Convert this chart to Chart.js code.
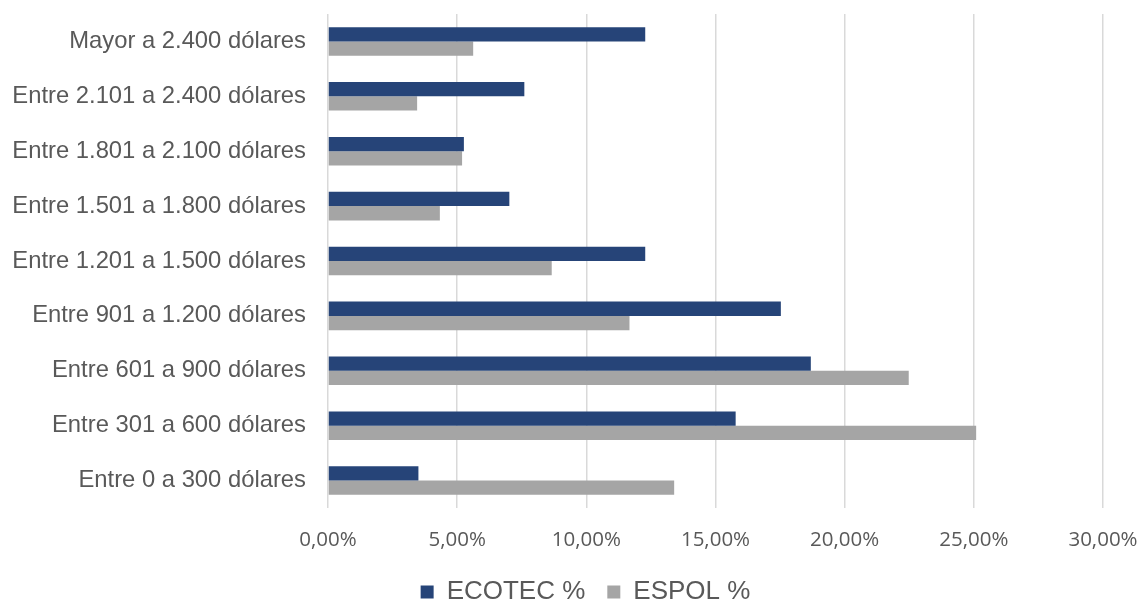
<!DOCTYPE html>
<html>
<head>
<meta charset="utf-8">
<script src="https://cdn.jsdelivr.net/npm/chart.js@4.4.1/dist/chart.umd.min.js"></script>
<style>
html,body{margin:0;padding:0;background:#fff;}
#wrap{width:1143px;height:604px;position:relative;}
</style>
</head>
<body>
<div id="wrap"><canvas id="c"></canvas></div>
<script>
const categories = [
  "Mayor a 2.400 dólares",
  "Entre 2.101 a 2.400 dólares",
  "Entre 1.801 a 2.100 dólares",
  "Entre 1.501 a 1.800 dólares",
  "Entre 1.201 a 1.500 dólares",
  "Entre 901 a 1.200 dólares",
  "Entre 601 a 900 dólares",
  "Entre 301 a 600 dólares",
  "Entre 0 a 300 dólares"
];
const ecotec = [12.28, 7.60, 5.26, 7.02, 12.28, 17.53, 18.69, 15.78, 3.50];
const espol  = [5.62, 3.45, 5.19, 4.33, 8.66, 11.67, 22.48, 25.09, 13.40];
const xTicks = [0, 5, 10, 15, 20, 25, 30];

const legendShift = {
  id: 'legendShift',
  afterLayout(chart) {
    if (chart.legend) { chart.legend.left += 14; chart.legend.right += 14; }
  }
};

new Chart(document.getElementById('c'), {
  type: 'bar',
  data: {
    labels: categories,
    datasets: [
      { label: 'ECOTEC %', data: ecotec, backgroundColor: '#264478', borderWidth: 0 },
      { label: 'ESPOL %', data: espol, backgroundColor: '#A5A5A5', borderWidth: 0 }
    ]
  },
  plugins: [legendShift],
  options: {
    indexAxis: 'y',
    responsive: true,
    maintainAspectRatio: false,
    animation: false,
    layout: { padding: { left: 0, right: 0, top: 14, bottom: 0 } },
    datasets: { bar: { barPercentage: 1.0, categoryPercentage: 0.52 } },
    plugins: {
      tooltip: { enabled: false },
      legend: {
        position: 'bottom',
        maxHeight: 47,
        labels: {
          boxWidth: 13, boxHeight: 13, padding: 22,
          color: '#595959',
          font: { family: "'Liberation Sans', Arial, sans-serif", size: 26 }
        }
      }
    },
    scales: {
      x: {
        min: 0, max: 30,
        afterBuildTicks: (s) => { s.ticks = xTicks.map(v => ({ value: v })); },
        afterFit: (s) => { s.paddingRight = 40; s.paddingLeft = 0; s.height = 49; },
        grid: { color: '#d9d9d9', lineWidth: 1.5, drawTicks: false },
        border: { display: false },
        ticks: {
          padding: 20,
          color: '#595959',
          font: { family: "'Open Sans', sans-serif", size: 20.5 },
          callback: (v) => v.toFixed(2).replace('.', ',') + '%'
        }
      },
      y: {
        afterFit: (s) => { s.width = 328; s.paddingTop = 0; s.paddingBottom = 0; },
        grid: { display: false, drawTicks: false },
        border: { display: false },
        ticks: {
          padding: 22,
          color: '#595959',
          font: { family: "'Liberation Sans', Arial, sans-serif", size: 23.8 }
        }
      }
    }
  }
});
</script>
</body>
</html>
